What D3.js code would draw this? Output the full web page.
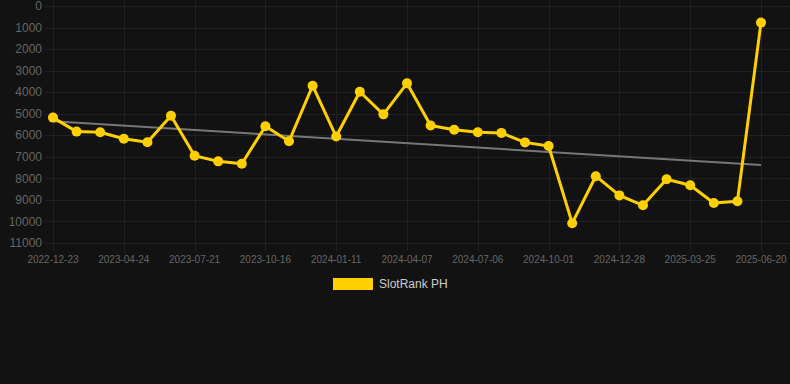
<!DOCTYPE html>
<html>
<head>
<meta charset="utf-8">
<script src="https://cdn.jsdelivr.net/npm/d3@7"></script>
<style>
  body { margin: 0; background: #121212; }
  svg { display: block; font-family: "Liberation Sans", Arial, sans-serif; }
</style>
</head>
<body>
<svg class="chart" width="790" height="384"></svg>
<script>
// rank per snapshot, one point per period (31 snapshots)
const rankValues = [5180, 5830, 5860, 6160, 6320, 5090, 6950, 7210, 7320, 5580, 6280,
                    3700, 6060, 3980, 5030, 3590, 5550, 5740, 5860, 5890, 6330,
                    6500, 10080, 7900, 8790, 9250, 8040, 8320, 9140, 9060, 770];
// only every 3rd snapshot carries a visible date label
const tickLabels = ['2022-12-23', '2023-04-24', '2023-07-21', '2023-10-16', '2024-01-11',
                    '2024-04-07', '2024-07-06', '2024-10-01', '2024-12-28', '2025-03-25', '2025-06-20'];
const tickStep = 3;
const yTicks = d3.range(0, 11001, 1000);
const seriesName = 'SlotRank PH';

const svg = d3.select('svg.chart');
const area = { left: 53, right: 761, top: 6, bottom: 243 };

const x = d3.scaleLinear().domain([0, rankValues.length - 1]).range([area.left, area.right]);
const y = d3.scaleLinear().domain([0, 11000]).range([area.top, area.bottom]);

// grid
const grid = svg.append('g').attr('stroke', '#212121').attr('stroke-width', 1);
grid.selectAll('line.h')
    .data(yTicks)
    .join('line')
    .attr('class', 'h')
    .attr('x1', area.left - 8).attr('x2', 790)
    .attr('y1', d => Math.round(y(d)) + 0.5).attr('y2', d => Math.round(y(d)) + 0.5);
grid.selectAll('line.v')
    .data(tickLabels.map((_, i) => i * tickStep))
    .join('line')
    .attr('class', 'v')
    .attr('x1', d => Math.round(x(d)) + 0.5).attr('x2', d => Math.round(x(d)) + 0.5)
    .attr('y1', 0).attr('y2', area.bottom + 8);

// y axis labels
svg.append('g')
    .selectAll('text')
    .data(yTicks)
    .join('text')
    .attr('x', area.left - 11)
    .attr('y', d => y(d))
    .attr('dy', '0.35em')
    .attr('text-anchor', 'end')
    .attr('fill', '#666')
    .attr('font-size', 12)
    .text(d => d);

// x axis labels
svg.append('g')
    .selectAll('text')
    .data(tickLabels)
    .join('text')
    .attr('x', (d, i) => x(i * tickStep))
    .attr('y', area.bottom + 16)
    .attr('dy', '0.35em')
    .attr('text-anchor', 'middle')
    .attr('fill', '#666')
    .attr('font-size', 10)
    .text(d => d);

// trend line (least squares over the series)
const n = rankValues.length;
const mx = d3.mean(d3.range(n));
const my = d3.mean(rankValues);
const slope = d3.sum(rankValues, (v, i) => (i - mx) * (v - my)) / d3.sum(d3.range(n), i => (i - mx) ** 2);
const trend = [0, n - 1].map(i => [i, my + slope * (i - mx)]);
svg.append('path')
    .datum(trend)
    .attr('fill', 'none')
    .attr('stroke', '#777')
    .attr('stroke-width', 2)
    .attr('d', d3.line().x(d => x(d[0])).y(d => y(d[1])));

// series
const line = d3.line().x((d, i) => x(i)).y(d => y(d));
svg.append('path')
    .datum(rankValues)
    .attr('fill', 'none')
    .attr('stroke', '#ffd000')
    .attr('stroke-width', 3)
    .attr('stroke-linejoin', 'round')
    .attr('d', line);
svg.append('g')
    .selectAll('circle')
    .data(rankValues)
    .join('circle')
    .attr('cx', (d, i) => x(i))
    .attr('cy', d => y(d))
    .attr('r', 5)
    .attr('fill', '#ffd000');

// legend
const legend = svg.append('g');
legend.append('rect')
    .attr('x', 333).attr('y', 278).attr('width', 40).attr('height', 12)
    .attr('fill', '#ffd000');
legend.append('text')
    .attr('x', 379).attr('y', 284).attr('dy', '0.35em')
    .attr('fill', '#ccc').attr('font-size', 12)
    .text(seriesName);
</script>
</body>
</html>
